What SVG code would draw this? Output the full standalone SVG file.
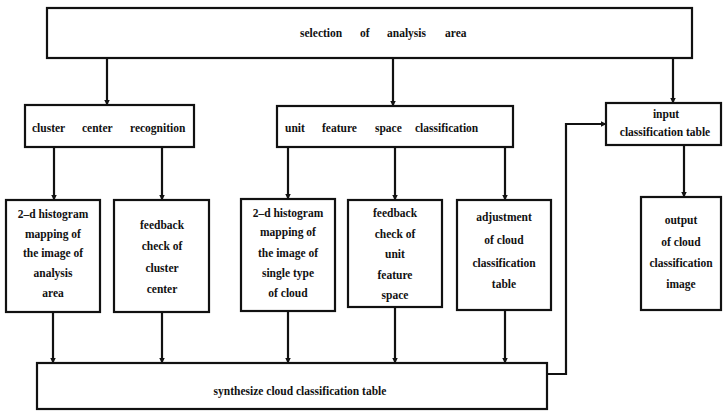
<svg xmlns="http://www.w3.org/2000/svg" width="723" height="411" viewBox="0 0 723 411">
<defs>
<marker id="ah" markerWidth="6" markerHeight="8" refX="5.5" refY="4" orient="auto" markerUnits="userSpaceOnUse">
<path d="M0,1 L6,4 L0,7 z" fill="#111"/>
</marker>
<style>
.box{fill:#fff;stroke:#111;stroke-width:2.2}
.ln{fill:none;stroke:#111;stroke-width:2.2;marker-end:url(#ah)}
text{font-family:"Liberation Serif","Times New Roman",serif;font-weight:bold;font-size:11.5px;fill:#111}
.c{text-anchor:middle}
</style>
</defs>
<rect width="723" height="411" fill="#fff"/>
<g id="connectors">
<path class="ln" d="M107,58 V105"/>
<path class="ln" d="M393,58 V106"/>
<path class="ln" d="M673,56 V103"/>
<path class="ln" d="M54,147 V200"/>
<path class="ln" d="M162,147 V200"/>
<path class="ln" d="M288,147 V199"/>
<path class="ln" d="M395,147 V200"/>
<path class="ln" d="M505,147 V200"/>
<path class="ln" d="M684,145 V197"/>
<path class="ln" d="M53,312 V363"/>
<path class="ln" d="M162,312 V363"/>
<path class="ln" d="M288,311 V363"/>
<path class="ln" d="M395,307 V363"/>
<path class="ln" d="M505,310 V363"/>
<path class="ln" d="M547,374 H566 V124 H606"/>
</g>
<g id="n-selection">
<rect class="box" x="47" y="8" width="645" height="50"/>
<text y="37"><tspan x="300">selection</tspan><tspan x="360">of</tspan><tspan x="387">analysis</tspan><tspan x="445">area</tspan></text>
</g>
<g id="n-cluster">
<rect class="box" x="25" y="105" width="169" height="42"/>
<text y="132"><tspan x="32">cluster</tspan><tspan x="82">center</tspan><tspan x="130">recognition</tspan></text>
</g>
<g id="n-unit">
<rect class="box" x="277" y="106" width="236" height="41"/>
<text y="132"><tspan x="285">unit</tspan><tspan x="322">feature</tspan><tspan x="375">space</tspan><tspan x="415">classification</tspan></text>
</g>
<g id="n-input">
<rect class="box" x="606" y="103" width="115" height="42"/>
<text class="c" x="666" y="118">input</text>
<text class="c" x="665" y="136">classification table</text>
</g>
<g id="n-hist1">
<rect class="box" x="6" y="200" width="94" height="112"/>
<text class="c" x="53" y="218">2–d histogram</text>
<text class="c" x="53" y="238">mapping of</text>
<text class="c" x="53" y="257">the image of</text>
<text class="c" x="53" y="277">analysis</text>
<text class="c" x="53" y="297">area</text>
</g>
<g id="n-feedback1">
<rect class="box" x="114" y="200" width="95" height="112"/>
<text class="c" x="162" y="229">feedback</text>
<text class="c" x="162" y="250">check of</text>
<text class="c" x="162" y="272">cluster</text>
<text class="c" x="162" y="293">center</text>
</g>
<g id="n-hist2">
<rect class="box" x="241" y="199" width="94" height="112"/>
<text class="c" x="288" y="217">2–d histogram</text>
<text class="c" x="288" y="236">mapping of</text>
<text class="c" x="288" y="257">the image of</text>
<text class="c" x="288" y="277">single  type</text>
<text class="c" x="288" y="297">of cloud</text>
</g>
<g id="n-feedback2">
<rect class="box" x="348" y="200" width="94" height="107"/>
<text class="c" x="395" y="217">feedback</text>
<text class="c" x="395" y="238">check of</text>
<text class="c" x="395" y="258">unit</text>
<text class="c" x="395" y="279">feature</text>
<text class="c" x="395" y="299">space</text>
</g>
<g id="n-adjust">
<rect class="box" x="457" y="200" width="94" height="110"/>
<text class="c" x="504" y="221">adjustment</text>
<text class="c" x="504" y="244">of cloud</text>
<text class="c" x="504" y="267">classification</text>
<text class="c" x="504" y="288">table</text>
</g>
<g id="n-output">
<rect class="box" x="641" y="197" width="80" height="113"/>
<text class="c" x="681" y="224">output</text>
<text class="c" x="681" y="246">of cloud</text>
<text class="c" x="681" y="267">classification</text>
<text class="c" x="681" y="288">image</text>
</g>
<g id="n-synth">
<rect class="box" x="37" y="363" width="510" height="46"/>
<text class="c" x="300" y="395">synthesize cloud classification table</text>
</g>
</svg>
